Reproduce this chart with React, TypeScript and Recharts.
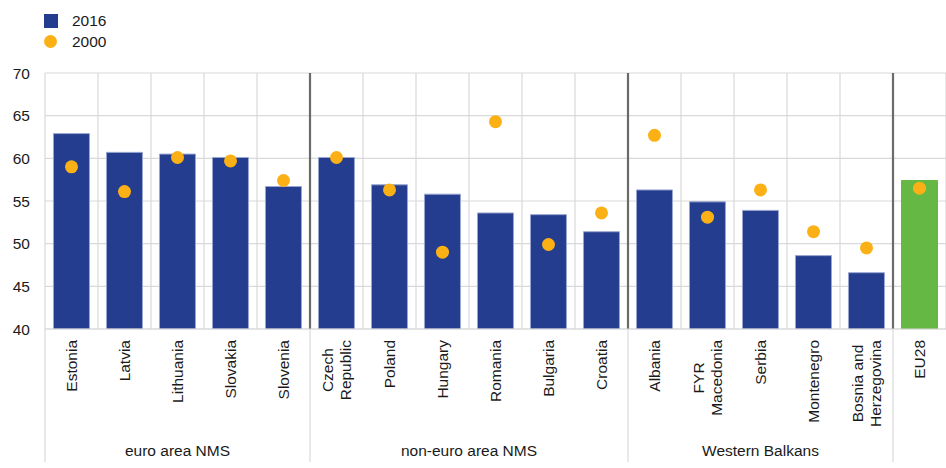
import React from "react";
import {
  ComposedChart,
  Bar,
  Scatter,
  Cell,
  XAxis,
  YAxis,
  CartesianGrid,
} from "recharts";

const categories = [
  "Estonia",
  "Latvia",
  "Lithuania",
  "Slovakia",
  "Slovenia",
  "Czech\nRepublic",
  "Poland",
  "Hungary",
  "Romania",
  "Bulgaria",
  "Croatia",
  "Albania",
  "FYR\nMacedonia",
  "Serbia",
  "Montenegro",
  "Bosnia and\nHerzegovina",
  "EU28",
];

const values2016 = [62.9, 60.7, 60.5, 60.1, 56.7, 60.1, 56.9, 55.8, 53.6, 53.4, 51.4, 56.3, 54.9, 53.9, 48.6, 46.6, 57.4];
const values2000 = [59.0, 56.1, 60.1, 59.7, 57.4, 60.1, 56.3, 49.0, 64.3, 49.9, 53.6, 62.7, 53.1, 56.3, 51.4, 49.5, 56.5];

// groups along the x axis: first category index and number of categories
const groups = [
  { label: "euro area NMS", start: 0, size: 5 },
  { label: "non-euro area NMS", start: 5, size: 6 },
  { label: "Western Balkans", start: 11, size: 5 },
  { label: "", start: 16, size: 1 },
];

const yTicks = [40, 45, 50, 55, 60, 65, 70];

const BLUE = "#243d8e";
const GREEN = "#65b844";
const ORANGE = "#fbb116";
const FONT = '"Liberation Sans", Arial, sans-serif';
const FONT_SIZE = 15.5;

const data = categories.map((name, i) => ({
  name,
  v2016: values2016[i],
  v2000: values2000[i],
}));

let measureCtx: CanvasRenderingContext2D | null = null;
function textWidth(s: string) {
  if (!measureCtx) {
    measureCtx = document.createElement("canvas").getContext("2d");
  }
  if (!measureCtx) return s.length * 8;
  measureCtx.font = `${FONT_SIZE}px ${FONT}`;
  return measureCtx.measureText(s).width;
}

const CategoryTick = (props: any) => {
  const { x, y, payload, index } = props;
  const half = payload.offset || 0;
  const lines = String(payload.value).split("\n");
  const w = Math.max(...lines.map(textWidth));
  const lineH = 18;
  const group = groups.find((g) => g.start === index);
  return (
    <g>
      {lines.map((line, i) => {
        const lx = x + (i - (lines.length - 1) / 2) * lineH;
        return (
          <text
            key={i}
            transform={`translate(${lx}, ${y + w / 2}) rotate(-90)`}
            textAnchor="middle"
            dominantBaseline="central"
            fontSize={FONT_SIZE}
            fontFamily={FONT}
            fill="#1a1a1a"
          >
            {line}
          </text>
        );
      })}
      {group && (
        <g>
          <line x1={x - half} x2={x - half} y1={y - 11} y2={y + 122} stroke="#d9d9d9" strokeWidth={1.2} />
          {group.label && (
            <text
              x={x - half + group.size * half}
              y={y + 110}
              textAnchor="middle"
              dominantBaseline="central"
              fontSize={FONT_SIZE}
              fontFamily={FONT}
              fill="#1a1a1a"
            >
              {group.label}
            </text>
          )}
        </g>
      )}
    </g>
  );
};

const Dot = (props: any) => {
  const { cx, cy } = props;
  return <circle cx={cx} cy={cy} r={6.5} fill={ORANGE} />;
};

export default function App() {
  const n = categories.length;
  const boundaries = (offset: any, idx: number[]) =>
    idx.map((i) => offset.left + (i * offset.width) / n);

  return (
    <div style={{ position: "absolute", left: 0, top: 0, width: 946, height: 468, background: "#fff" }}>
      <div style={{ position: "absolute", left: 44, top: 10, fontFamily: FONT, fontSize: FONT_SIZE, color: "#1a1a1a" }}>
        <div style={{ display: "flex", alignItems: "center", height: 21 }}>
          <span style={{ width: 14, height: 14, background: BLUE, display: "inline-block", marginRight: 14 }} />
          2016
        </div>
        <div style={{ display: "flex", alignItems: "center", height: 21 }}>
          <span style={{ width: 13, height: 13, borderRadius: "50%", background: ORANGE, display: "inline-block", marginRight: 15 }} />
          2000
        </div>
      </div>
      <ComposedChart
        width={946}
        height={468}
        data={data}
        margin={{ top: 73, right: 0, left: 0, bottom: 0 }}
        barCategoryGap="16%"
      >
        <CartesianGrid
          stroke="#d9d9d9"
          strokeWidth={1.2}
          verticalCoordinatesGenerator={({ offset }: any) =>
            boundaries(offset, Array.from({ length: n + 1 }, (_, i) => i))
          }
        />
        <CartesianGrid
          horizontal={false}
          stroke="#6b6b6b"
          strokeWidth={2.2}
          verticalCoordinatesGenerator={({ offset }: any) =>
            boundaries(offset, groups.slice(1).map((g) => g.start))
          }
        />
        <XAxis
          dataKey="name"
          interval={0}
          height={139}
          tickLine={false}
          tickSize={0}
          tickMargin={11}
          axisLine={{ stroke: "#d9d9d9" }}
          tick={<CategoryTick />}
        />
        <YAxis
          width={45}
          domain={[40, 70]}
          ticks={yTicks}
          allowDataOverflow
          axisLine={false}
          tickLine={false}
          tickSize={0}
          tickMargin={15}
          tick={{ fill: "#1a1a1a", fontSize: FONT_SIZE, fontFamily: FONT }}
        />
        <Bar dataKey="v2016" fill={BLUE} stroke="#9aa6d0" strokeWidth={1} isAnimationActive={false}>
          {data.map((d, i) => (
            <Cell key={i} fill={d.name === "EU28" ? GREEN : BLUE} stroke={d.name === "EU28" ? GREEN : "#9aa6d0"} />
          ))}
        </Bar>
        <Scatter dataKey="v2000" fill={ORANGE} shape={<Dot />} isAnimationActive={false} />
      </ComposedChart>
    </div>
  );
}
